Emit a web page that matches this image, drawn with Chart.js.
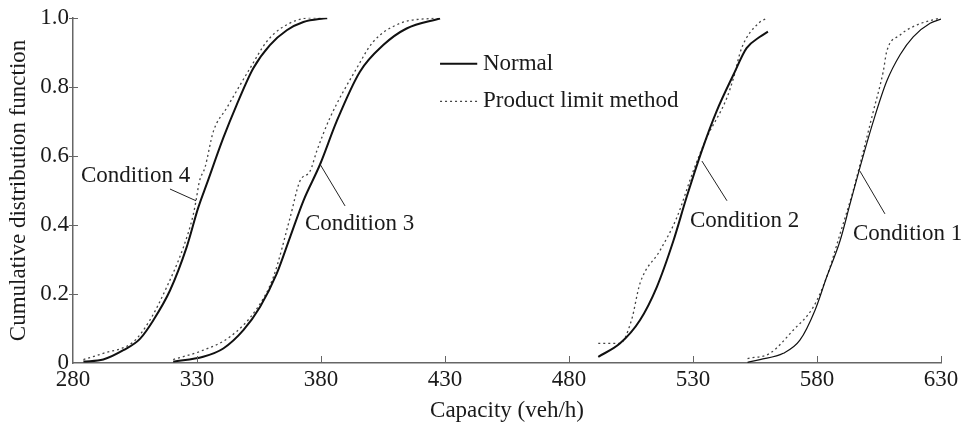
<!DOCTYPE html>
<html>
<head>
<meta charset="utf-8">
<script src="https://cdn.jsdelivr.net/npm/chart.js@4"></script>
<style>
  html, body { margin: 0; padding: 0; background: #fff; }
  #wrap { width: 966px; height: 427px; }
</style>
</head>
<body>
<div id="wrap"><canvas id="cdfChart"></canvas></div>
<script>
// x ticks (capacity, veh/h) and y ticks (CDF)
const xTicks = [280, 330, 380, 430, 480, 530, 580, 630];
const yTicks = [0, 0.2, 0.4, 0.6, 0.8, 1.0];

// Condition 4
const c4NormalX = [284.2, 292.2, 300.3, 307.0, 312.4, 319.1, 325.8, 330.5, 333.9, 340.6, 346.0, 352.7, 359.4, 366.2, 372.9, 380.9, 382.5];
const c4NormalY = [0.004, 0.010, 0.037, 0.070, 0.124, 0.210, 0.335, 0.450, 0.518, 0.652, 0.748, 0.854, 0.921, 0.964, 0.988, 0.998, 0.999];
const c4PlX = [284.2, 292.2, 304.3, 311.0, 317.8, 324.5, 328.5, 329.6, 331.0, 333.2, 336.6, 342.0, 351.4, 358.1, 364.8, 375.6, 381.0];
const c4PlY = [0.010, 0.028, 0.061, 0.124, 0.220, 0.335, 0.430, 0.470, 0.527, 0.566, 0.671, 0.739, 0.854, 0.931, 0.974, 1.000, 1.000];

// Condition 3
const c3NormalX = [320.4, 332.5, 340.6, 348.7, 355.4, 362.1, 367.5, 372.9, 379.6, 386.3, 395.7, 405.1, 414.5, 428.0];
const c3NormalY = [0.004, 0.018, 0.042, 0.095, 0.162, 0.258, 0.364, 0.470, 0.575, 0.700, 0.844, 0.921, 0.969, 0.998];
const c3PlX = [320.4, 332.5, 343.3, 354.1, 360.8, 367.5, 371.5, 375.6, 378.3, 383.6, 394.4, 401.1, 411.9, 426.6];
const c3PlY = [0.010, 0.037, 0.076, 0.157, 0.249, 0.420, 0.527, 0.556, 0.614, 0.710, 0.854, 0.931, 0.984, 1.000];

// Condition 2
const c2NormalX = [491.8, 500.6, 508.6, 515.4, 522.1, 527.4, 533.5, 539.5, 546.3, 551.6, 557.0, 560.2];
const c2NormalY = [0.018, 0.057, 0.124, 0.220, 0.354, 0.480, 0.614, 0.729, 0.835, 0.912, 0.945, 0.960];
const c2PlX = [491.8, 500.6, 505.2, 508.6, 516.7, 523.4, 530.1, 535.5, 543.6, 546.3, 549.6, 557.0, 559.4];
const c2PlY = [0.057, 0.057, 0.124, 0.230, 0.326, 0.420, 0.556, 0.652, 0.767, 0.825, 0.912, 0.988, 0.997];

// Condition 1
const c1NormalX = [552.0, 557.0, 566.4, 573.1, 579.2, 583.9, 589.3, 593.3, 597.3, 602.7, 608.1, 613.5, 618.8, 625.6, 630.0];
const c1NormalY = [0.002, 0.010, 0.028, 0.066, 0.153, 0.249, 0.354, 0.460, 0.566, 0.700, 0.816, 0.893, 0.945, 0.984, 0.996];
const c1PlX = [552.0, 561.0, 570.4, 578.5, 583.9, 589.3, 594.6, 598.7, 602.7, 606.7, 608.1, 613.5, 620.2, 630.0];
const c1PlY = [0.013, 0.028, 0.095, 0.162, 0.249, 0.374, 0.500, 0.614, 0.729, 0.844, 0.902, 0.950, 0.979, 1.000];

// callouts: label start, leader line from/to (data units)
const callouts = [
    { text: 'Condition 4', at: [283.2, 0.542], from: [319.1, 0.504], to: [329.6, 0.470] },
    { text: 'Condition 3', at: [373.5, 0.403], from: [379.6, 0.576], to: [389.7, 0.455] },
    { text: 'Condition 2', at: [528.8, 0.412], from: [533.6, 0.585], to: [543.7, 0.470] },
    { text: 'Condition 1', at: [594.5, 0.375], from: [597.3, 0.556], to: [607.4, 0.432] }
];

const FONT = "'Liberation Serif', 'Times New Roman', serif";
const FS = 23;
const INK = '#1a1a1a';
const AXIS = '#666';

const pts = (xs, ys) => xs.map((x, i) => ({ x, y: ys[i] }));

const solid = (data, width) => ({
    label: 'Normal',
    data,
    borderColor: '#111',
    borderWidth: width,
    pointRadius: 0,
    cubicInterpolationMode: 'monotone',
    fill: false
});
const dotted = (data) => ({
    label: 'Product limit method',
    data,
    borderColor: '#444',
    borderWidth: 1.3,
    borderDash: [2, 3],
    pointRadius: 0,
    cubicInterpolationMode: 'monotone',
    fill: false
});

const extras = {
    id: 'extras',
    afterDatasetsDraw(chart) {
        const { ctx, scales: { x, y } } = chart;
        ctx.save();

        // tick marks
        ctx.strokeStyle = AXIS;
        ctx.lineWidth = 1;
        xTicks.forEach(v => {
            if (v === xTicks[0]) return;
            const px = Math.round(x.getPixelForValue(v)) + 0.5;
            ctx.beginPath();
            ctx.moveTo(px, y.bottom);
            ctx.lineTo(px, y.bottom - 7);
            ctx.stroke();
        });
        yTicks.forEach(v => {
            if (v === 0) return;
            const py = Math.round(y.getPixelForValue(v)) + 0.5;
            ctx.beginPath();
            ctx.moveTo(x.left - 4, py);
            ctx.lineTo(x.left + 5, py);
            ctx.stroke();
        });

        // callouts
        ctx.font = FS + 'px ' + FONT;
        ctx.fillStyle = INK;
        ctx.textBaseline = 'middle';
        ctx.textAlign = 'left';
        callouts.forEach(c => {
            ctx.strokeStyle = '#222';
            ctx.lineWidth = 1;
            ctx.beginPath();
            ctx.moveTo(x.getPixelForValue(c.from[0]), y.getPixelForValue(c.from[1]));
            ctx.lineTo(x.getPixelForValue(c.to[0]), y.getPixelForValue(c.to[1]));
            ctx.stroke();
            ctx.fillText(c.text, x.getPixelForValue(c.at[0]), y.getPixelForValue(c.at[1]));
        });

        // legend, styled from the first solid and dotted datasets
        const items = [chart.data.datasets[0], chart.data.datasets[1]];
        const lx0 = x.getPixelForValue(428), lx1 = x.getPixelForValue(443);
        const tx = x.getPixelForValue(445.3);
        [0.867, 0.758].forEach((lv, i) => {
            const ds = items[i];
            const py = y.getPixelForValue(lv);
            ctx.strokeStyle = ds.borderColor;
            ctx.lineWidth = ds.borderWidth;
            ctx.setLineDash(ds.borderDash || []);
            ctx.beginPath();
            ctx.moveTo(lx0, py);
            ctx.lineTo(lx1, py);
            ctx.stroke();
            ctx.setLineDash([]);
            ctx.fillText(ds.label, tx, py);
        });
        ctx.restore();
    }
};

new Chart(document.getElementById('cdfChart'), {
    type: 'line',
    data: {
        datasets: [
            solid(pts(c4NormalX, c4NormalY), 2),
            dotted(pts(c4PlX, c4PlY)),
            solid(pts(c3NormalX, c3NormalY), 2),
            dotted(pts(c3PlX, c3PlY)),
            solid(pts(c2NormalX, c2NormalY), 2),
            dotted(pts(c2PlX, c2PlY)),
            solid(pts(c1NormalX, c1NormalY), 1.2),
            dotted(pts(c1PlX, c1PlY))
        ]
    },
    options: {
        responsive: true,
        maintainAspectRatio: false,
        animation: false,
        layout: { padding: { top: 16, right: 25, left: 0, bottom: 0 } },
        plugins: {
            legend: { display: false },
            tooltip: { enabled: false }
        },
        scales: {
            x: {
                type: 'linear',
                min: 280,
                max: 630,
                afterBuildTicks: (s) => { s.ticks = xTicks.map(v => ({ value: v })); },
                afterFit: (s) => { s.height = 64; },
                grid: { display: false, tickLength: 0 },
                border: { display: true, color: AXIS, width: 1.5 },
                ticks: {
                    color: INK,
                    padding: 3,
                    maxRotation: 0,
                    font: { family: FONT, size: FS }
                },
                title: {
                    display: true,
                    text: 'Capacity (veh/h)',
                    color: INK,
                    padding: { top: 0, bottom: 2 },
                    font: { family: FONT, size: FS }
                }
            },
            y: {
                min: 0,
                max: 1,
                afterBuildTicks: (s) => { s.ticks = yTicks.map(v => ({ value: v })); },
                afterFit: (s) => { s.width = 73; },
                grid: { display: false, tickLength: 0 },
                border: { display: true, color: AXIS, width: 1.5 },
                ticks: {
                    color: INK,
                    padding: 4,
                    font: { family: FONT, size: FS },
                    callback: (v) => v === 0 ? '0' : v.toFixed(1)
                },
                title: {
                    display: true,
                    text: 'Cumulative distribution function',
                    color: INK,
                    padding: { top: 5, bottom: 0 },
                    font: { family: FONT, size: FS }
                }
            }
        }
    },
    plugins: [extras]
});
</script>
</body>
</html>
